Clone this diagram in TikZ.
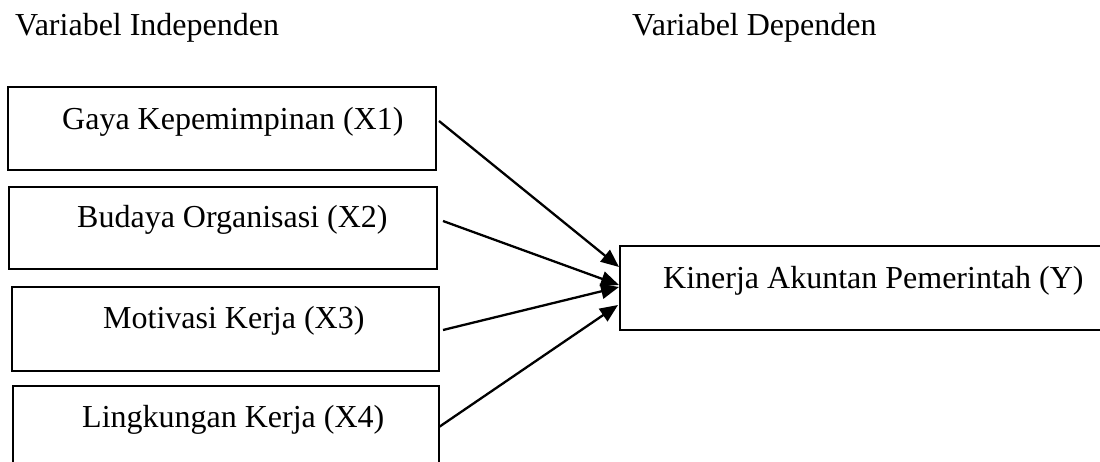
\documentclass[tikz,border=0pt]{standalone}
\usepackage{fontspec}
\setmainfont{Liberation Serif}
\usetikzlibrary{arrows.meta}

\tikzset{
  varbox/.style={draw=black, line width=2pt, rectangle, inner sep=0pt, anchor=north west},
  lbl/.style={anchor=base west, inner sep=0pt, font=\fontsize{32}{38}\selectfont},
  link/.style={line width=2.3pt, -{Triangle[length=18pt,width=15pt]}}
}

\begin{document}
\begin{tikzpicture}[x=1pt, y=-1pt]
  \useasboundingbox (0,0) rectangle (1100,462);
  \clip (0,0) rectangle (1100,462);

  % column headings
  \node[lbl] (hind) at (15,36) {Variabel Independen};
  \node[lbl] (hdep) at (632,36) {Variabel Dependen};

  % independent variables
  \node[varbox, minimum width=428pt, minimum height=83pt] (b1) at (7,86) {};
  \node[varbox, minimum width=428pt, minimum height=82pt] (b2) at (8,186) {};
  \node[varbox, minimum width=427pt, minimum height=84pt] (b3) at (11,286) {};
  \node[varbox, minimum width=426pt, minimum height=90pt] (b4) at (12,385) {};

  \node[lbl] (t1) at (62,130) {Gaya Kepemimpinan (X1)};
  \node[lbl] (t2) at (77,228) {Budaya Organisasi (X2)};
  \node[lbl] (t3) at (103,328) {Motivasi Kerja (X3)};
  \node[lbl] (t4) at (82,427) {Lingkungan Kerja (X4)};

  % dependent variable
  \node[varbox, minimum width=500pt, minimum height=84pt] (y) at (619,245) {};
  \node[lbl] (ty) at (663,288) {Kinerja Akuntan Pemerintah (Y)};

  % influence arrows
  \draw[link] ([shift={(2,35)}]b1.north east) -- ([shift={(0,22)}]y.north west);
  \draw[link] ([shift={(5,35)}]b2.north east) -- ([shift={(0,40)}]y.north west);
  \draw[link] ([shift={(3,44)}]b3.north east) -- ([shift={(0,42)}]y.north west);
  \draw[link] ([shift={(-1,42)}]b4.north east) -- ([shift={(-1,60)}]y.north west);
\end{tikzpicture}
\end{document}
